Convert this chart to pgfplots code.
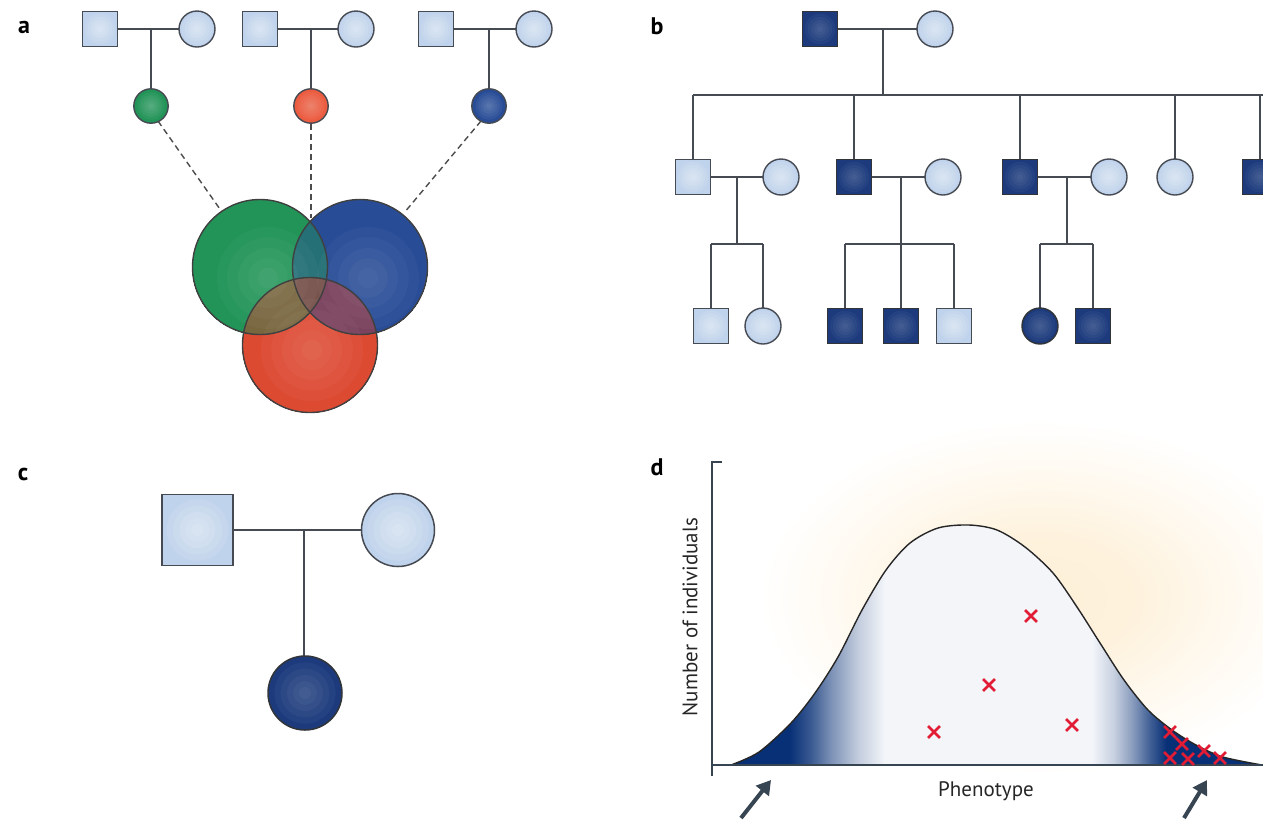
\documentclass[border=0pt]{standalone}
\usepackage{pgfplots}
\pgfplotsset{compat=1.18}
\usepackage{fontspec}
\setmainfont{PT Sans}
\usetikzlibrary{arrows.meta}

\definecolor{lightped}{RGB}{192,211,236}
\definecolor{darkped}{RGB}{28,58,124}
\definecolor{edge}{RGB}{70,74,82}
\definecolor{vgreen}{RGB}{34,148,88}
\definecolor{vblue}{RGB}{40,76,150}
\definecolor{vred}{RGB}{236,92,64}
\definecolor{vreddark}{RGB}{205,58,38}
\definecolor{navy}{RGB}{8,48,118}
\definecolor{paleblue}{RGB}{243,245,249}
\definecolor{cream}{RGB}{254,240,216}
\definecolor{xred}{RGB}{226,28,52}
\definecolor{arrowgray}{RGB}{55,68,82}

% the path's bounding box spans 25bp..75bp of these shadings
\pgfdeclarehorizontalshading{tails}{100bp}{color(0bp)=(navy); color(30.5bp)=(navy); color(32.5bp)=(navy!80!white); color(34.5bp)=(navy!52!white); color(37bp)=(navy!24!white); color(39.5bp)=(paleblue); color(59bp)=(paleblue); color(61bp)=(navy!22!white); color(62.8bp)=(navy!48!white); color(64.5bp)=(navy!78!white); color(66bp)=(navy); color(100bp)=(navy)}
\pgfdeclareradialshading{glow}{\pgfpoint{0bp}{0bp}}{color(0bp)=(cream); color(9bp)=(cream!85!white); color(18bp)=(cream!35!white); color(25bp)=(white); color(50bp)=(white)}

\newcommand{\seg}[1]{\addplot[edge, line width=0.65pt, forget plot] coordinates {#1};}
% soft light centre on a symbol: #1 size, #2 opacity, #3 coordinates
\newcommand{\shine}[3]{%
  \addplot[only marks, forget plot, mark=*, mark size={0.85*#1}, mark options={fill=white, draw=white, fill opacity=#2, draw opacity=0, line width=0pt}] coordinates {#3};
  \addplot[only marks, forget plot, mark=*, mark size={0.68*#1}, mark options={fill=white, draw=white, fill opacity=#2, draw opacity=0, line width=0pt}] coordinates {#3};
  \addplot[only marks, forget plot, mark=*, mark size={0.5*#1}, mark options={fill=white, draw=white, fill opacity=#2, draw opacity=0, line width=0pt}] coordinates {#3};
  \addplot[only marks, forget plot, mark=*, mark size={0.33*#1}, mark options={fill=white, draw=white, fill opacity=#2, draw opacity=0, line width=0pt}] coordinates {#3};
  \addplot[only marks, forget plot, mark=*, mark size={0.17*#1}, mark options={fill=white, draw=white, fill opacity=#2, draw opacity=0, line width=0pt}] coordinates {#3};
}

\begin{document}
\begin{tikzpicture}
\begin{axis}[
  x=0.5pt, y=0.5pt,
  xmin=0, xmax=1263, ymin=0, ymax=820,
  y dir=reverse,
  hide axis,
  clip=true, clip marker paths=true,
]
\addplot[draw=none, forget plot] coordinates {(0,0) (1263,820)};

% ---------------- panel a ----------------
\seg{(100,29) (197,29)} \seg{(151,29) (151,106)}
\seg{(260,29) (356,29)} \seg{(311,29) (311,106)}
\seg{(436,29) (534,29)} \seg{(489,29) (489,106)}
\addplot[gray!60!black, line width=0.7pt, dash pattern=on 3pt off 2pt] coordinates {(158,121) (222,212)};
\addplot[gray!60!black, line width=0.7pt, dash pattern=on 3pt off 2pt] coordinates {(311,124) (311,218)};
\addplot[gray!60!black, line width=0.7pt, dash pattern=on 3pt off 2pt] coordinates {(481,121) (404,213)};

\addplot[only marks, mark=square*, mark size=8.75pt, mark options={fill=lightped, draw=edge, line width=0.7pt}]
  coordinates {(100,29) (260,29) (436,29)};
\addplot[only marks, mark=*, mark size=9pt, mark options={fill=lightped, draw=edge, line width=0.7pt}]
  coordinates {(197,29) (356,29) (534,29)};
\shine{9pt}{0.1}{(100,29) (260,29) (436,29) (197,29) (356,29) (534,29)}
\addplot[only marks, mark=*, mark size=8.6pt, mark options={fill=vgreen, draw=edge, line width=0.7pt}] coordinates {(151,106)};
\addplot[only marks, mark=*, mark size=8.6pt, mark options={fill=vred, draw=edge, line width=0.7pt}] coordinates {(311,106)};
\addplot[only marks, mark=*, mark size=8.6pt, mark options={fill=vblue, draw=edge, line width=0.7pt}] coordinates {(489,106)};
\shine{8pt}{0.05}{(151,106) (311,106) (489,106)}

% Venn circles
\addplot[only marks, mark=*, mark size=33.75pt, mark options={fill=vred, draw=vred, line width=0pt}] coordinates {(310,345)};
\addplot[only marks, mark=*, mark size=33.75pt, mark options={fill=vgreen, draw=vgreen, line width=0pt}] coordinates {(260,267)};
\addplot[only marks, mark=*, mark size=33.75pt, mark options={fill=vblue, draw=vblue, line width=0pt}] coordinates {(360,267)};
\addplot[only marks, mark=*, mark size=33.75pt, mark options={fill=vgreen, draw=vgreen, fill opacity=0.5, draw opacity=0, line width=0pt}] coordinates {(260,267)};
\addplot[only marks, mark=*, mark size=33.75pt, mark options={fill=vreddark, draw=vreddark, fill opacity=0.5, draw opacity=0, line width=0pt}] coordinates {(310,345)};
\shine{30pt}{0.03}{(268,278) (368,278) (312,350)}
\addplot[only marks, mark=o, mark size=33.75pt, mark options={draw=black!75, line width=0.7pt}]
  coordinates {(260,267) (360,267) (310,345)};

% ---------------- panel b ----------------
\seg{(820,29) (935,29)} \seg{(883,29) (883,95)}
\seg{(693,95) (1263,95)}
\seg{(693,95) (693,177)} \seg{(854,95) (854,177)} \seg{(1020,95) (1020,177)}
\seg{(1175,95) (1175,177)} \seg{(1260,95) (1260,177)}
\seg{(693,177) (781,177)} \seg{(854,177) (943,177)} \seg{(1020,177) (1109,177)}
\seg{(737,177) (737,244)} \seg{(901,177) (901,244)} \seg{(1067,177) (1067,244)}
\seg{(711,244) (763,244)} \seg{(845,244) (954,244)} \seg{(1040,244) (1093,244)}
\seg{(711,244) (711,326)} \seg{(763,244) (763,326)}
\seg{(845,244) (845,326)} \seg{(901,244) (901,326)} \seg{(954,244) (954,326)}
\seg{(1040,244) (1040,326)} \seg{(1093,244) (1093,326)}

\addplot[only marks, mark=square*, mark size=8.75pt, mark options={fill=darkped, draw=edge!70!black, line width=0.7pt}]
  coordinates {(820,29) (854,177) (1020,177) (1260,177) (845,326) (901,326) (1093,326)};
\addplot[only marks, mark=*, mark size=9pt, mark options={fill=darkped, draw=edge!70!black, line width=0.7pt}]
  coordinates {(1040,326)};
\shine{9pt}{0.04}{(820,29) (854,177) (1020,177) (1260,177) (845,326) (901,326) (1093,326) (1040,326)}
\addplot[only marks, mark=square*, mark size=8.75pt, mark options={fill=lightped, draw=edge, line width=0.7pt}]
  coordinates {(693,177) (711,326) (954,326)};
\addplot[only marks, mark=*, mark size=9pt, mark options={fill=lightped, draw=edge, line width=0.7pt}]
  coordinates {(935,29) (781,177) (943,177) (1109,177) (1175,177) (763,326)};
\shine{9pt}{0.1}{(693,177) (711,326) (954,326) (935,29) (781,177) (943,177) (1109,177) (1175,177) (763,326)}

% ---------------- panel c ----------------
\seg{(197,530) (398,530)} \seg{(304,530) (304,693)}
\addplot[only marks, mark=square*, mark size=17.75pt, mark options={fill=lightped, draw=edge, line width=0.75pt}] coordinates {(197.5,530)};
\addplot[only marks, mark=*, mark size=18.25pt, mark options={fill=lightped, draw=edge, line width=0.75pt}] coordinates {(398,530)};
\shine{18pt}{0.1}{(197.5,530) (398,530)}
\addplot[only marks, mark=*, mark size=18.5pt, mark options={fill=darkped, draw=edge!70!black, line width=0.75pt}] coordinates {(305,693)};
\shine{18pt}{0.04}{(305,693)}

% ---------------- panel d ----------------
\addplot[draw=none, shade, shading=glow] coordinates {(760,420) (1320,420) (1320,775) (760,775)};
\addplot[draw=black!85, line width=0.7pt, smooth, shade, shading=tails] coordinates {
  (731,765) (759,752) (791,723) (815,693) (838,657) (862,610) (886,570)
  (910,543) (938,528) (969,525) (997,530) (1025,547) (1053,573) (1077,607)
  (1100,643) (1124,680) (1148,710) (1172,730) (1196,745) (1223,757) (1262,765)
};
\addplot[arrowgray, line width=1.1pt] coordinates {(711,765) (1263,765)};
\addplot[arrowgray, line width=1.1pt] coordinates {(722,462) (712,462) (712,776)};

\addplot[only marks, mark=x, mark size=4.2pt, mark options={draw=xred, line width=1.3pt}] coordinates {
  (934,732) (989,685) (1031,616) (1072,725)
  (1170,732) (1182,744) (1170,758) (1188,759) (1204,751) (1220,758)
};

\addplot[arrowgray, line width=2pt, -{Triangle[length=7pt,width=8pt]}] coordinates {(741,818) (771,780)};
\addplot[arrowgray, line width=2pt, -{Triangle[length=7pt,width=8pt]}] coordinates {(1184,818) (1207,780)};

\node[font=\fontsize{10.5}{12}\selectfont, text=black!85] at (axis cs:986,791) {Phenotype};
\node[font=\fontsize{10.5}{12}\selectfont, text=black!85, rotate=90] at (axis cs:690,617) {Number of individuals};

% panel labels
\node[font=\bfseries\fontsize{12}{12}\selectfont] at (axis cs:24,27) {a};
\node[font=\bfseries\fontsize{12}{12}\selectfont] at (axis cs:657,26) {b};
\node[font=\bfseries\fontsize{12}{12}\selectfont] at (axis cs:23,474) {c};
\node[font=\bfseries\fontsize{12}{12}\selectfont] at (axis cs:657,467) {d};
\end{axis}
\end{tikzpicture}
\end{document}
